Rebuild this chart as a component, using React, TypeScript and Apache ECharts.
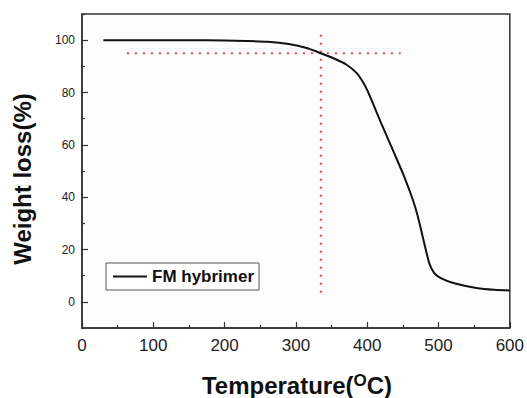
import React, { useEffect, useRef } from "react";
import * as echarts from "echarts";

const temps = [30, 100, 150, 200, 230, 260, 290, 315, 335, 355, 370, 385, 394, 401, 420, 438, 452, 464, 471, 480, 487, 494, 504, 522, 555, 578, 600];
const weights = [100, 100, 100, 99.9, 99.7, 99.4, 98.5, 97, 95, 92.8, 90.8, 87.5, 84, 80.3, 68, 56.7, 47.8, 39, 32.6, 22.4, 14.8, 11, 9, 7.1, 5.2, 4.6, 4.3];
const hLine = [[63, 95], [447, 95]];
const vLine = [[335, 3.5], [335, 104]];
const yMajor = [0, 20, 40, 60, 80, 100];
const yMinor = [-10, 10, 30, 50, 70, 90, 110];
const seriesName = "FM hybrimer";

const FONT = "'Liberation Sans', Arial, sans-serif";

export default function App() {
  const ref = useRef<HTMLDivElement>(null);
  useEffect(() => {
    if (!ref.current) return;
    const chart = echarts.init(ref.current, undefined, { renderer: "svg" });
    chart.setOption({
      animation: false,
      backgroundColor: "#ffffff",
      grid: {
        left: 82,
        right: 15,
        top: 14,
        bottom: 70,
        show: true,
        borderColor: "#333",
        borderWidth: 1.5,
        backgroundColor: "#fdfdfd",
      },
      xAxis: {
        type: "value",
        min: 0,
        max: 600,
        interval: 100,
        axisLine: { show: true, onZero: false, lineStyle: { color: "#333", width: 1.5 } },
        axisTick: { show: true, inside: true, length: 6, lineStyle: { color: "#333", width: 1.2 } },
        minorTick: { show: true, splitNumber: 2, length: 3, lineStyle: { color: "#333", width: 1.2 } },
        axisLabel: { color: "#222", fontSize: 17, fontFamily: FONT, margin: 9 },
        splitLine: { show: false },
      },
      yAxis: [
        {
          type: "value",
          min: -10,
          max: 110,
          axisLine: { show: true, onZero: false, lineStyle: { color: "#333", width: 1.5 } },
          axisTick: { show: true, inside: true, length: 6, customValues: yMajor, lineStyle: { color: "#333", width: 1.2 } },
          axisLabel: { color: "#222", fontSize: 12, fontFamily: FONT, margin: 7, customValues: yMajor },
          splitLine: { show: false },
        },
        {
          type: "value",
          min: -10,
          max: 110,
          position: "left",
          axisLine: { show: false, onZero: false },
          axisTick: { show: true, inside: true, length: 3, customValues: yMinor, lineStyle: { color: "#333", width: 1.2 } },
          axisLabel: { show: false },
          splitLine: { show: false },
        },
      ],
      legend: {
        data: [{ name: seriesName, icon: "rect" }],
        left: 106,
        top: 263,
        orient: "horizontal",
        padding: [5, 5, 5, 7],
        itemWidth: 34,
        itemHeight: 2,
        borderColor: "#555",
        borderWidth: 1,
        backgroundColor: "#fff",
        borderRadius: 0,
        textStyle: { fontSize: 17, fontWeight: "bold", color: "#111", fontFamily: FONT, lineHeight: 15 },
      },
      series: [
        {
          name: seriesName,
          type: "line",
          data: temps.map((t, i) => [t, weights[i]]),
          smooth: 0.2,
          symbol: "none",
          lineStyle: { color: "#111", width: 2 },
          itemStyle: { color: "#111" },
          z: 3,
        },
        {
          name: "h",
          type: "line",
          data: hLine,
          symbol: "none",
          lineStyle: { color: "#ff4040", width: 2, type: [2, 6] },
          z: 2,
        },
        {
          name: "v",
          type: "line",
          data: vLine,
          symbol: "none",
          lineStyle: { color: "#ff4040", width: 2, type: [2, 6] },
          z: 2,
        },
      ],
      graphic: [
        {
          type: "text",
          x: 22,
          y: 179,
          rotation: Math.PI / 2,
          style: {
            text: "Weight loss(%)",
            font: `bold 24px ${FONT}`,
            fill: "#111",
            align: "center",
            verticalAlign: "middle",
          },
        },
        {
          type: "text",
          x: 297,
          y: 385,
          style: {
            text: "{a|Temperature(}{s|O}{a|C)}",
            align: "center",
            verticalAlign: "middle",
            rich: {
              a: { fontSize: 24, fontWeight: "bold", fontFamily: FONT, fill: "#111", lineHeight: 26 },
              s: { fontSize: 17, fontWeight: "bold", fontFamily: FONT, fill: "#111", lineHeight: 26, verticalAlign: "top" },
            },
          },
        },
      ],
    });
    return () => chart.dispose();
  }, []);
  return <div ref={ref} style={{ width: 527, height: 398, position: "absolute", left: 0, top: 0 }} />;
}
